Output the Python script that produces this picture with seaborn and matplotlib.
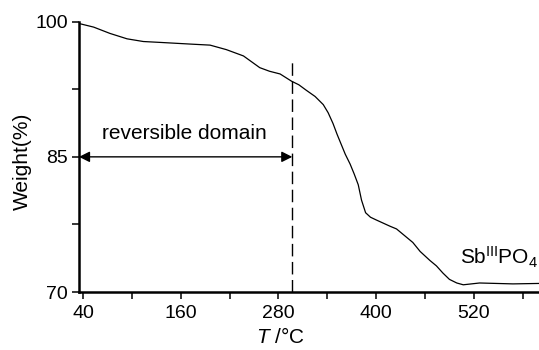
import numpy as np
import pandas as pd
import seaborn as sns
import matplotlib.pyplot as plt

# TGA curve
temperature = [35, 53, 73, 94, 114, 135, 175, 196, 216, 237, 257, 269, 282, 296,
               305, 314, 325, 335, 341, 347, 352, 357, 362, 368, 373, 378, 382,
               387, 393, 400, 417, 425, 437, 445, 454, 466, 474, 482, 490, 499,
               507, 527, 568, 600]
weight = [99.8, 99.4, 98.7, 98.1, 97.8, 97.7, 97.5, 97.4, 96.9, 96.2, 94.9, 94.5,
          94.2, 93.4, 93.0, 92.4, 91.7, 90.8, 89.9, 88.7, 87.5, 86.4, 85.3, 84.2,
          83.1, 81.9, 80.2, 78.8, 78.3, 78.0, 77.3, 77.0, 76.1, 75.5, 74.5, 73.5,
          72.9, 72.1, 71.4, 71.0, 70.8, 71.0, 70.9, 70.95]

x_major = [40, 160, 280, 400, 520]
x_minor = [100, 220, 340, 460, 580]
y_major = [70, 85, 100]
y_minor = [77.5, 92.5]

boundary_T = 297      # end of reversible domain
boundary_top = 96.0
arrow_level = 85

sns.set_style("ticks", {'text.color': 'black', 'axes.labelcolor': 'black',
                        'xtick.color': 'black', 'ytick.color': 'black',
                        'axes.edgecolor': 'black'})
plt.rcParams['font.family'] = ['Liberation Sans', 'DejaVu Sans']
plt.rcParams['mathtext.fontset'] = 'custom'
plt.rcParams['mathtext.rm'] = 'Liberation Sans'
plt.rcParams['mathtext.it'] = 'Liberation Sans:italic'

fig = plt.figure(figsize=(5.39, 3.5), dpi=100)
ax = fig.add_axes([79 / 539, 58 / 350, 460 / 539, 270.3 / 350])

df = pd.DataFrame({'T': temperature, 'W': weight})
sns.lineplot(data=df, x='T', y='W', ax=ax, color='black', lw=0.9, sort=False)

ax.set_xlim(35, 600)
ax.set_ylim(70, 100)

# dashed boundary and double arrow
ax.plot([boundary_T, boundary_T], [70, boundary_top], color='black', lw=1.0,
        linestyle=(0, (9, 4)))
ax.annotate('', xy=(35, arrow_level), xytext=(boundary_T, arrow_level),
            arrowprops=dict(arrowstyle='<|-|>', color='black', lw=1.0,
                            mutation_scale=16, shrinkA=0, shrinkB=0))
ax.text(165, 87.6, 'reversible domain', ha='center', va='center', fontsize=15)
ax.text(503, 73.8, r'Sb$^{\mathrm{III}}$PO$_4$', ha='left', va='center', fontsize=15)

ax.set_xticks(x_major)
ax.set_xticks(x_minor, minor=True)
ax.set_yticks(y_major)
ax.set_yticks(y_minor, minor=True)
ax.tick_params(which='both', direction='out', length=5, width=1.1, color='black')
ax.tick_params(axis='both', labelcolor='black')
ax.tick_params(axis='x', labelsize=14, pad=4)
ax.tick_params(axis='y', labelsize=14, pad=3)

sns.despine(ax=ax)
for side in ['left', 'bottom']:
    ax.spines[side].set_linewidth(1.8)
    ax.spines[side].set_color('black')

ax.set_xlabel(r'$T$ /°C', fontsize=15, color='black')
ax.set_ylabel('Weight(%)', fontsize=15, color='black')
ax.xaxis.set_label_coords(0.437, -0.13)
ax.yaxis.set_label_coords(-0.103, 0.483)

fig.savefig('out.png', dpi=100)
